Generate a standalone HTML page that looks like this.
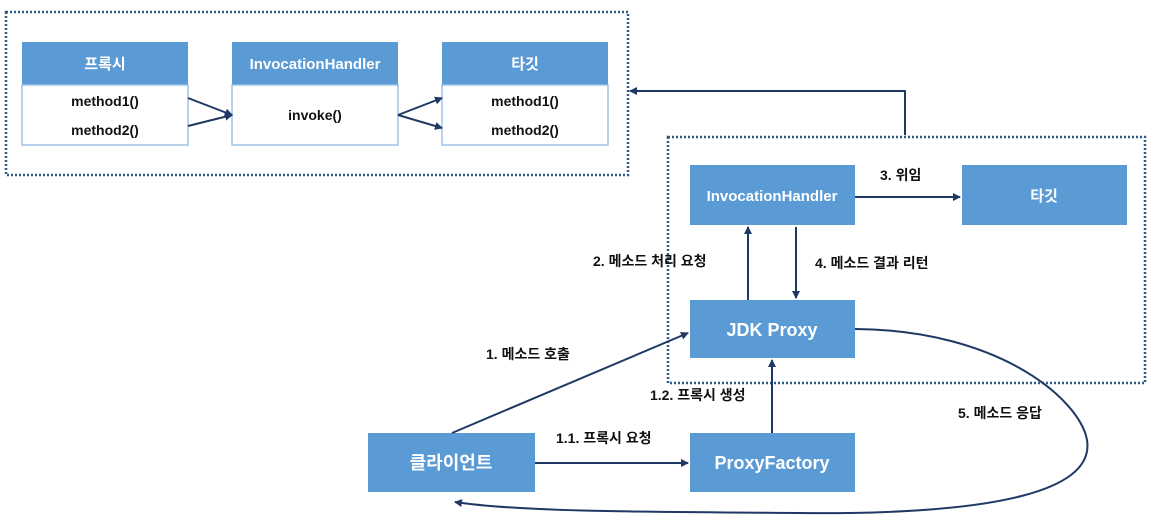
<!DOCTYPE html>
<html><head><meta charset="utf-8"><style>
body{margin:0;background:#fff;width:1151px;height:520px;overflow:hidden;font-family:"Liberation Sans","Noto Sans CJK KR",sans-serif}
</style></head><body>
<svg width="1151" height="520" xmlns="http://www.w3.org/2000/svg" font-family="Liberation Sans, Noto Sans CJK KR, sans-serif" font-weight="bold">
<defs><marker id="a" markerWidth="8" markerHeight="8" refX="7" refY="4" orient="auto" markerUnits="userSpaceOnUse"><path d="M0,0 L8,4 L0,8 z" fill="#1f3864"/></marker></defs>
<g fill="none" stroke="#2e5c8a" stroke-width="2.5" stroke-dasharray="2 2">
<rect x="6" y="12" width="622" height="163"/>
<rect x="668" y="137" width="477" height="246"/>
</g>
<g fill="#5b9bd5">
<rect x="22" y="42" width="166" height="43"/><rect x="232" y="42" width="166" height="43"/><rect x="442" y="42" width="166" height="43"/>
<rect x="690" y="165" width="165" height="60"/><rect x="962" y="165" width="165" height="60"/>
<rect x="690" y="300" width="165" height="58"/><rect x="690" y="433" width="165" height="59"/><rect x="368" y="433" width="167" height="59"/>
</g>
<g fill="#fff" stroke="#9dc3e6" stroke-width="1.5">
<rect x="22" y="85" width="166" height="60"/><rect x="232" y="85" width="166" height="60"/><rect x="442" y="85" width="166" height="60"/>
</g>
<g fill="#fff" font-size="15" text-anchor="middle">
<text x="105" y="69">프록시</text><text x="315" y="69">InvocationHandler</text><text x="525" y="69">타깃</text>
<text x="772" y="201">InvocationHandler</text><text x="1044" y="201">타깃</text>
<text x="772" y="336" font-size="18">JDK Proxy</text><text x="772" y="469" font-size="18">ProxyFactory</text><text x="451" y="469" font-size="18">클라이언트</text>
</g>
<g fill="#111" font-size="14" text-anchor="middle">
<text x="105" y="106">method1()</text><text x="105" y="135">method2()</text>
<text x="315" y="120">invoke()</text>
<text x="525" y="106">method1()</text><text x="525" y="135">method2()</text>
</g>
<g fill="#111" font-size="14">
<text x="880" y="180">3. 위임</text>
<text x="593" y="266">2. 메소드 처리 요청</text>
<text x="815" y="268">4. 메소드 결과 리턴</text>
<text x="486" y="359">1. 메소드 호출</text>
<text x="650" y="400">1.2. 프록시 생성</text>
<text x="556" y="443">1.1. 프록시 요청</text>
<text x="958" y="418">5. 메소드 응답</text>
</g>
<g fill="none" stroke="#1f3864" stroke-width="2" marker-end="url(#a)">
<path d="M188,98 L232,115" marker-end="url(#a)"/><path d="M188,126 L232,115"/>
<path d="M398,115 L442,98"/><path d="M398,115 L442,128"/>
<path d="M905,135 L905,91 L630,91"/>
<path d="M855,197 L960,197"/>
<path d="M748,300 L748,227"/><path d="M796,227 L796,298"/>
<path d="M452,433 L688,333"/>
<path d="M535,463 L688,463"/>
<path d="M772,433 L772,360"/>
<path d="M855,329 C1000,330 1080,400 1087,440 C1095,490 1000,515 800,513 C650,512 520,512 455,502"/>
</g>
</svg>
</body></html>
